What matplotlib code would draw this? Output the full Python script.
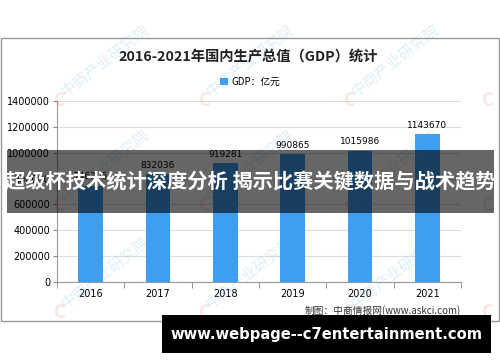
import matplotlib
matplotlib.use("Agg")
import matplotlib.pyplot as plt
from matplotlib.patches import Rectangle

plt.rcParams['font.family'] = ['Noto Sans CJK SC', 'DejaVu Sans']

years = ["2016", "2017", "2018", "2019", "2020", "2021"]
gdp = [746395, 832036, 919281, 990865, 1015986, 1143670]
yticks = [0, 200000, 400000, 600000, 800000, 1000000, 1200000, 1400000]
title = "2016-2021年国内生产总值（GDP）统计"
legend_label = "GDP：亿元"
source = "制图：中商情报网(www.askci.com)"
banner = "超级杯技术统计深度分析 揭示比赛关键数据与战术趋势"
footer = "www.webpage--c7entertainment.com"
watermark = "中商产业研究院"

W, H = 500, 362
fig = plt.figure(figsize=(5, 3.62), dpi=100)
fig.patch.set_facecolor("white")

def fx(px):
    return px / W

def fy(py):
    return 1 - py / H

# outer frame
fig.patches.append(Rectangle((fx(1), fy(321)), fx(498), (321 - 38) / H,
                             transform=fig.transFigure, fill=False,
                             edgecolor="#9a9a9a", linewidth=1.0, zorder=0))

# watermarks
wm_pos = [(60, 100), (205, 100), (350, 100),
          (60, 205), (205, 205), (350, 205),
          (60, 312), (205, 312), (350, 312)]
for (x, y) in wm_pos:
    fig.text(fx(x + 8), fy(y), watermark, rotation=38, fontsize=11,
             color="#5aaee8", alpha=0.2, ha="left", va="bottom",
             rotation_mode="anchor", zorder=0.5)
for (x, y) in wm_pos + [(488, 100), (488, 205), (488, 312)]:
    fig.text(fx(x), fy(y), "C", fontsize=13, fontweight="bold",
             color="#e98a6a", alpha=0.2, ha="center", va="center", zorder=0.5)

ax = fig.add_axes([fx(57), fy(282), fx(461) - fx(57), (282 - 101) / H])
ax.set_facecolor("none")
x = list(range(len(years)))
bars = ax.bar(x, gdp, width=0.37, color="#3e9ef2", label=legend_label, zorder=2)
ax.set_xlim(-0.5, len(years) - 0.5)
ax.set_ylim(0, 1400000)
ax.set_yticks(yticks)
ax.set_yticklabels([str(v) for v in yticks], fontsize=7, family="DejaVu Sans")
ax.set_xticks(x)
ax.set_xticklabels(years, fontsize=7, family="DejaVu Sans")
ax.set_xticks([i - 0.5 for i in range(len(years) + 1)], minor=True)
ax.tick_params(axis="x", which="major", length=0, pad=5)
ax.tick_params(axis="x", which="minor", length=4, color="#888888")
ax.tick_params(axis="y", length=3, color="#888888", pad=2)
ax.grid(axis="y", color="#dddddd", linewidth=0.8, zorder=0)
ax.set_axisbelow(True)
for s in ["top", "right"]:
    ax.spines[s].set_visible(False)
ax.spines["left"].set_color("#999999")
ax.spines["bottom"].set_color("#999999")
ax.bar_label(bars, labels=[str(v) for v in gdp], fontsize=6.5, padding=3,
             family="DejaVu Sans")

fig.text(0.497, fy(57), title, ha="center", va="center", fontsize=10.3,
         fontweight="bold", color="#222222")
leg = fig.legend(handles=[bars], labels=[legend_label], loc="center",
                 bbox_to_anchor=(0.5, fy(82)), frameon=False, fontsize=7,
                 handlelength=0.8, handleheight=0.8, handletextpad=0.3)

fig.text(fx(461), fy(311), source, ha="right", va="center", fontsize=7,
         color="#333333")

# banner overlay
fig.patches.append(Rectangle((fx(7), fy(213)), fx(494) - fx(7), (213 - 150) / H,
                             transform=fig.transFigure, facecolor="black",
                             alpha=0.6, edgecolor="none", zorder=5))
fig.text(0.5, fy(182), banner, ha="center", va="center", fontsize=14.6,
         fontweight="bold", color="white", zorder=6)

# footer
fig.patches.append(Rectangle((fx(162), fy(353)), fx(491) - fx(162), (353 - 315) / H,
                             transform=fig.transFigure, facecolor="black",
                             edgecolor="none", zorder=5))
fig.text(fx(326), fy(335), footer, ha="center", va="center", fontsize=10.6,
         fontweight="bold", color="white", family="DejaVu Sans", zorder=6)

fig.savefig("out.png", dpi=100)
